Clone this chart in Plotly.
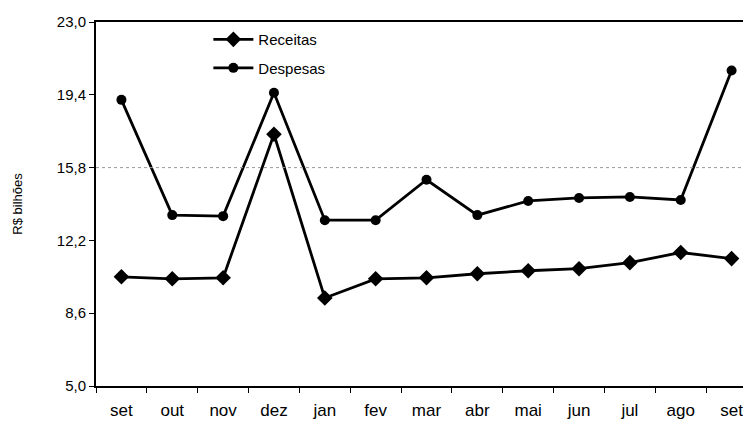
import plotly.graph_objects as go

meses = ["set", "out", "nov", "dez", "jan", "fev", "mar", "abr", "mai", "jun", "jul", "ago", "set"]
receitas = [10.4, 10.3, 10.35, 17.45, 9.35, 10.3, 10.35, 10.55, 10.7, 10.8, 11.1, 11.6, 11.3]
despesas = [19.15, 13.45, 13.4, 19.5, 13.2, 13.2, 15.2, 13.45, 14.15, 14.3, 14.35, 14.2, 20.6]
y_ticks = [5.0, 8.6, 12.2, 15.8, 19.4, 23.0]

x = list(range(len(meses)))

fig = go.Figure()
fig.add_trace(go.Scatter(
    x=x, y=receitas, name="Receitas", mode="lines+markers", legendgroup="r",
    line=dict(color="black", width=2.8),
    marker=dict(symbol="diamond", size=12, color="black"),
))
fig.add_trace(go.Scatter(
    x=x, y=despesas, name="Despesas", mode="lines+markers", legendgroup="d",
    line=dict(color="black", width=2.8),
    marker=dict(symbol="circle", size=10, color="black"),
))

# faint dotted gridline seen in the scan
fig.add_hline(y=y_ticks[3], line=dict(color="#999999", width=1, dash="dot"))

fig.update_layout(
    width=751, height=428,
    separators=",.",
    paper_bgcolor="white", plot_bgcolor="white",
    margin=dict(l=88, r=0, t=14, b=50),
    font=dict(family="Liberation Sans, Arial, sans-serif", color="black"),
    legend=dict(
        x=0.17, y=0.997, xanchor="left", yanchor="top",
        bgcolor="rgba(0,0,0,0)", font=dict(size=15),
        traceorder="grouped", tracegroupgap=6, itemwidth=40,
    ),
)
fig.update_xaxes(
    range=[-0.5, len(meses) - 0.5],
    tickvals=x, ticktext=meses, ticks="",
    tickfont=dict(size=17), ticklabelstandoff=8,
    showgrid=False, zeroline=False,
    showline=True, linecolor="black", linewidth=2, mirror=True,
    minor=dict(ticks="outside", tick0=-0.5, dtick=1, ticklen=5, tickcolor="black", showgrid=False),
)
fig.update_yaxes(
    range=[y_ticks[0], y_ticks[-1]],
    tickvals=y_ticks, tickformat=".1f",
    ticks="outside", ticklen=5, tickcolor="black",
    tickfont=dict(size=15),
    showgrid=False, zeroline=False,
    showline=True, linecolor="black", linewidth=2, mirror=True,
    title=dict(text="R$ bilhões", font=dict(size=13), standoff=31),
)

fig.write_html("out.html")
